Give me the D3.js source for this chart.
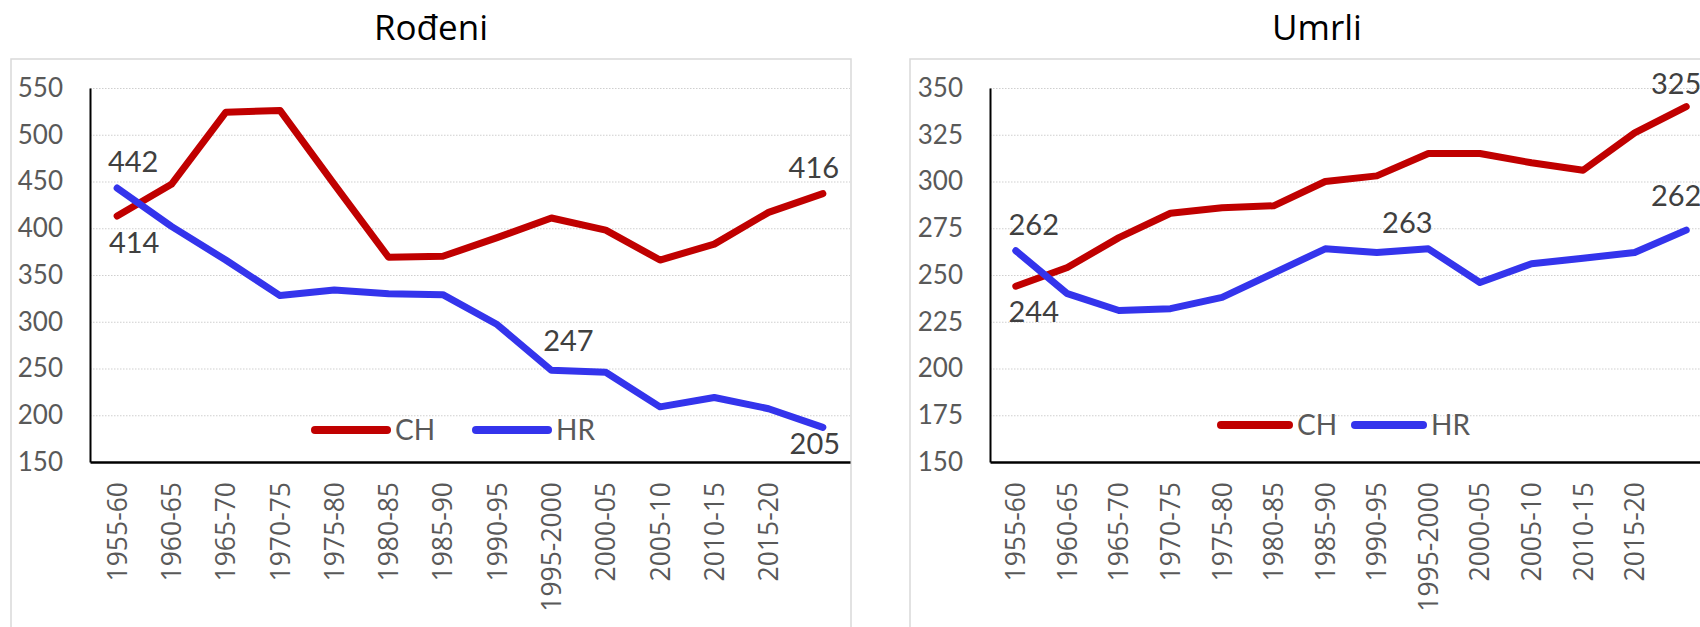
<!DOCTYPE html>
<html>
<head>
<meta charset="utf-8">
<script src="https://cdn.jsdelivr.net/npm/d3@7"></script>
<style>
  body { margin: 0; background: #ffffff; }
  svg { display: block; }
</style>
</head>
<body>
<div id="chart"></div>
<script>

// categories (last band has no label)
var periods = ["1955-60", "1960-65", "1965-70", "1970-75", "1975-80", "1980-85", "1985-90",
               "1990-95", "1995-2000", "2000-05", "2005-10", "2010-15", "2015-20", ""];

var seriesNames = ["CH", "HR"];

// Rođeni
var bornCH = [413, 447, 524, 526, 447, 369, 370, 390, 411, 398, 366, 383, 417, 437];
var bornHR = [443, 402, 366, 328, 334, 330, 329, 297, 248, 246, 209, 219, 207, 187];
var bornTicks = [150, 200, 250, 300, 350, 400, 450, 500, 550];

// Umrli
var diedCH = [244, 254, 270, 283, 286, 287, 300, 303, 315, 315, 310, 306, 326, 340];
var diedHR = [263, 240, 231, 232, 238, 251, 264, 262, 264, 246, 256, 259, 262, 274];
var diedTicks = [150, 175, 200, 225, 250, 275, 300, 325, 350];

// data labels shown on the chart: series, point, text
var bornLabels = [[1, 0, "442"], [0, 0, "414"], [0, 13, "416"], [1, 8, "247"], [1, 13, "205"]];
var diedLabels = [[1, 0, "262"], [0, 0, "244"], [1, 8, "263"], [0, 13, "325"], [1, 13, "262"]];

var colors = ["#c00000", "#3434ec"];

var svg = d3.select("#chart")
  .append("svg")
    .attr("width", 1700)
    .attr("height", 627);

function drawPanel(cfg) {
  var g = svg.append("g");

  // panel frame
  g.append("rect")
    .attr("x", cfg.box[0])
    .attr("y", cfg.box[1])
    .attr("width", cfg.box[2])
    .attr("height", cfg.box[3])
    .attr("fill", "none")
    .attr("stroke", "#d9d9d9")
    .attr("stroke-width", 1.5);

  // title
  g.append("text")
    .attr("x", cfg.titleX)
    .attr("y", 40)
    .attr("text-anchor", "middle")
    .style("font-family", "'Open Sans'")
    .style("font-size", "35px")
    .style("fill", "#000")
    .text(cfg.title);

  var x = d3.scaleBand()
    .domain(d3.range(periods.length))
    .range([cfg.left, cfg.right]);

  var y = d3.scaleLinear()
    .domain([cfg.ticks[0], cfg.ticks[cfg.ticks.length - 1]])
    .range([462, 88]);

  var cx = function(i) { return x(i) + x.bandwidth() / 2; };

  // gridlines
  var grid = g.append("g")
    .attr("transform", "translate(" + cfg.left + ",0)")
    .call(d3.axisLeft(y)
      .tickValues(cfg.ticks.slice(1))
      .tickSize(-(cfg.right - cfg.left))
      .tickFormat(""));
  grid.select(".domain").remove();
  grid.selectAll("line")
    .attr("stroke", "#cfcfcf")
    .attr("stroke-width", 1)
    .attr("stroke-dasharray", "1.5,1.5");

  // y axis
  var yAxis = g.append("g")
    .attr("transform", "translate(" + cfg.left + ",0)")
    .call(d3.axisLeft(y).tickValues(cfg.ticks).tickSize(0).tickPadding(27));
  yAxis.select(".domain").attr("stroke", "#000").attr("stroke-width", 2);
  yAxis.selectAll("text")
    .style("font-family", "Lato")
    .style("font-size", "26px")
    .style("fill", "#595959");

  // x axis
  var xAxis = g.append("g")
    .attr("transform", "translate(0,462)")
    .call(d3.axisBottom(x).tickSize(0).tickFormat(function(i) { return periods[i]; }));
  xAxis.select(".domain").attr("stroke", "#000").attr("stroke-width", 2.5);
  xAxis.selectAll("text")
    .attr("transform", "rotate(-90)")
    .attr("text-anchor", "end")
    .attr("x", -20)
    .attr("y", 0)
    .attr("dy", "0.36em")
    .style("font-family", "'Open Sans'")
    .style("font-size", "26.5px")
    .style("fill", "#595959");

  // lines
  var line = d3.line()
    .x(function(d, i) { return cx(i); })
    .y(function(d) { return y(d); });

  cfg.series.forEach(function(values, s) {
    g.append("path")
      .datum(values)
      .attr("fill", "none")
      .attr("stroke", colors[s])
      .attr("stroke-width", 7)
      .attr("stroke-linecap", "round")
      .attr("stroke-linejoin", "round")
      .attr("d", line);
  });

  // data labels
  cfg.labels.forEach(function(lb, k) {
    var v = cfg.series[lb[0]][lb[1]];
    g.append("text")
      .attr("x", cx(lb[1]) + cfg.nudge[k][0])
      .attr("y", y(v) + cfg.nudge[k][1])
      .attr("text-anchor", "middle")
      .style("font-family", "Lato")
      .style("font-size", "29px")
      .style("fill", "#404040")
      .text(lb[2]);
  });

  // legend
  seriesNames.forEach(function(name, s) {
    var lx = cfg.legend[s];
    g.append("line")
      .attr("x1", lx + 4)
      .attr("x2", lx + cfg.legendLen - 4)
      .attr("y1", cfg.legendY)
      .attr("y2", cfg.legendY)
      .attr("stroke", colors[s])
      .attr("stroke-width", 8)
      .attr("stroke-linecap", "round");
    g.append("text")
      .attr("x", lx + cfg.legendLen + 4)
      .attr("y", cfg.legendY)
      .attr("dy", "0.36em")
      .style("font-family", "Lato")
      .style("font-size", "28px")
      .style("fill", "#595959")
      .text(name);
  });
}

drawPanel({
  title: "Rođeni",
  titleX: 431,
  box: [11, 59, 840, 700],
  left: 90,
  right: 850,
  ticks: bornTicks,
  series: [bornCH, bornHR],
  labels: bornLabels,
  nudge: [[16, -16], [17, 37], [-9, -16], [17, -19], [-8, 27]],
  legend: [311, 472],
  legendLen: 80,
  legendY: 430
});

drawPanel({
  title: "Umrli",
  titleX: 1317,
  box: [910, 59, 900, 700],
  left: 990,
  right: 1712,
  ticks: diedTicks,
  series: [diedCH, diedHR],
  labels: diedLabels,
  nudge: [[18, -16], [18, 36], [-21, -16], [-10, -13], [-10, -24]],
  legend: [1217, 1351],
  legendLen: 76,
  legendY: 425
});

</script>
</body>
</html>
